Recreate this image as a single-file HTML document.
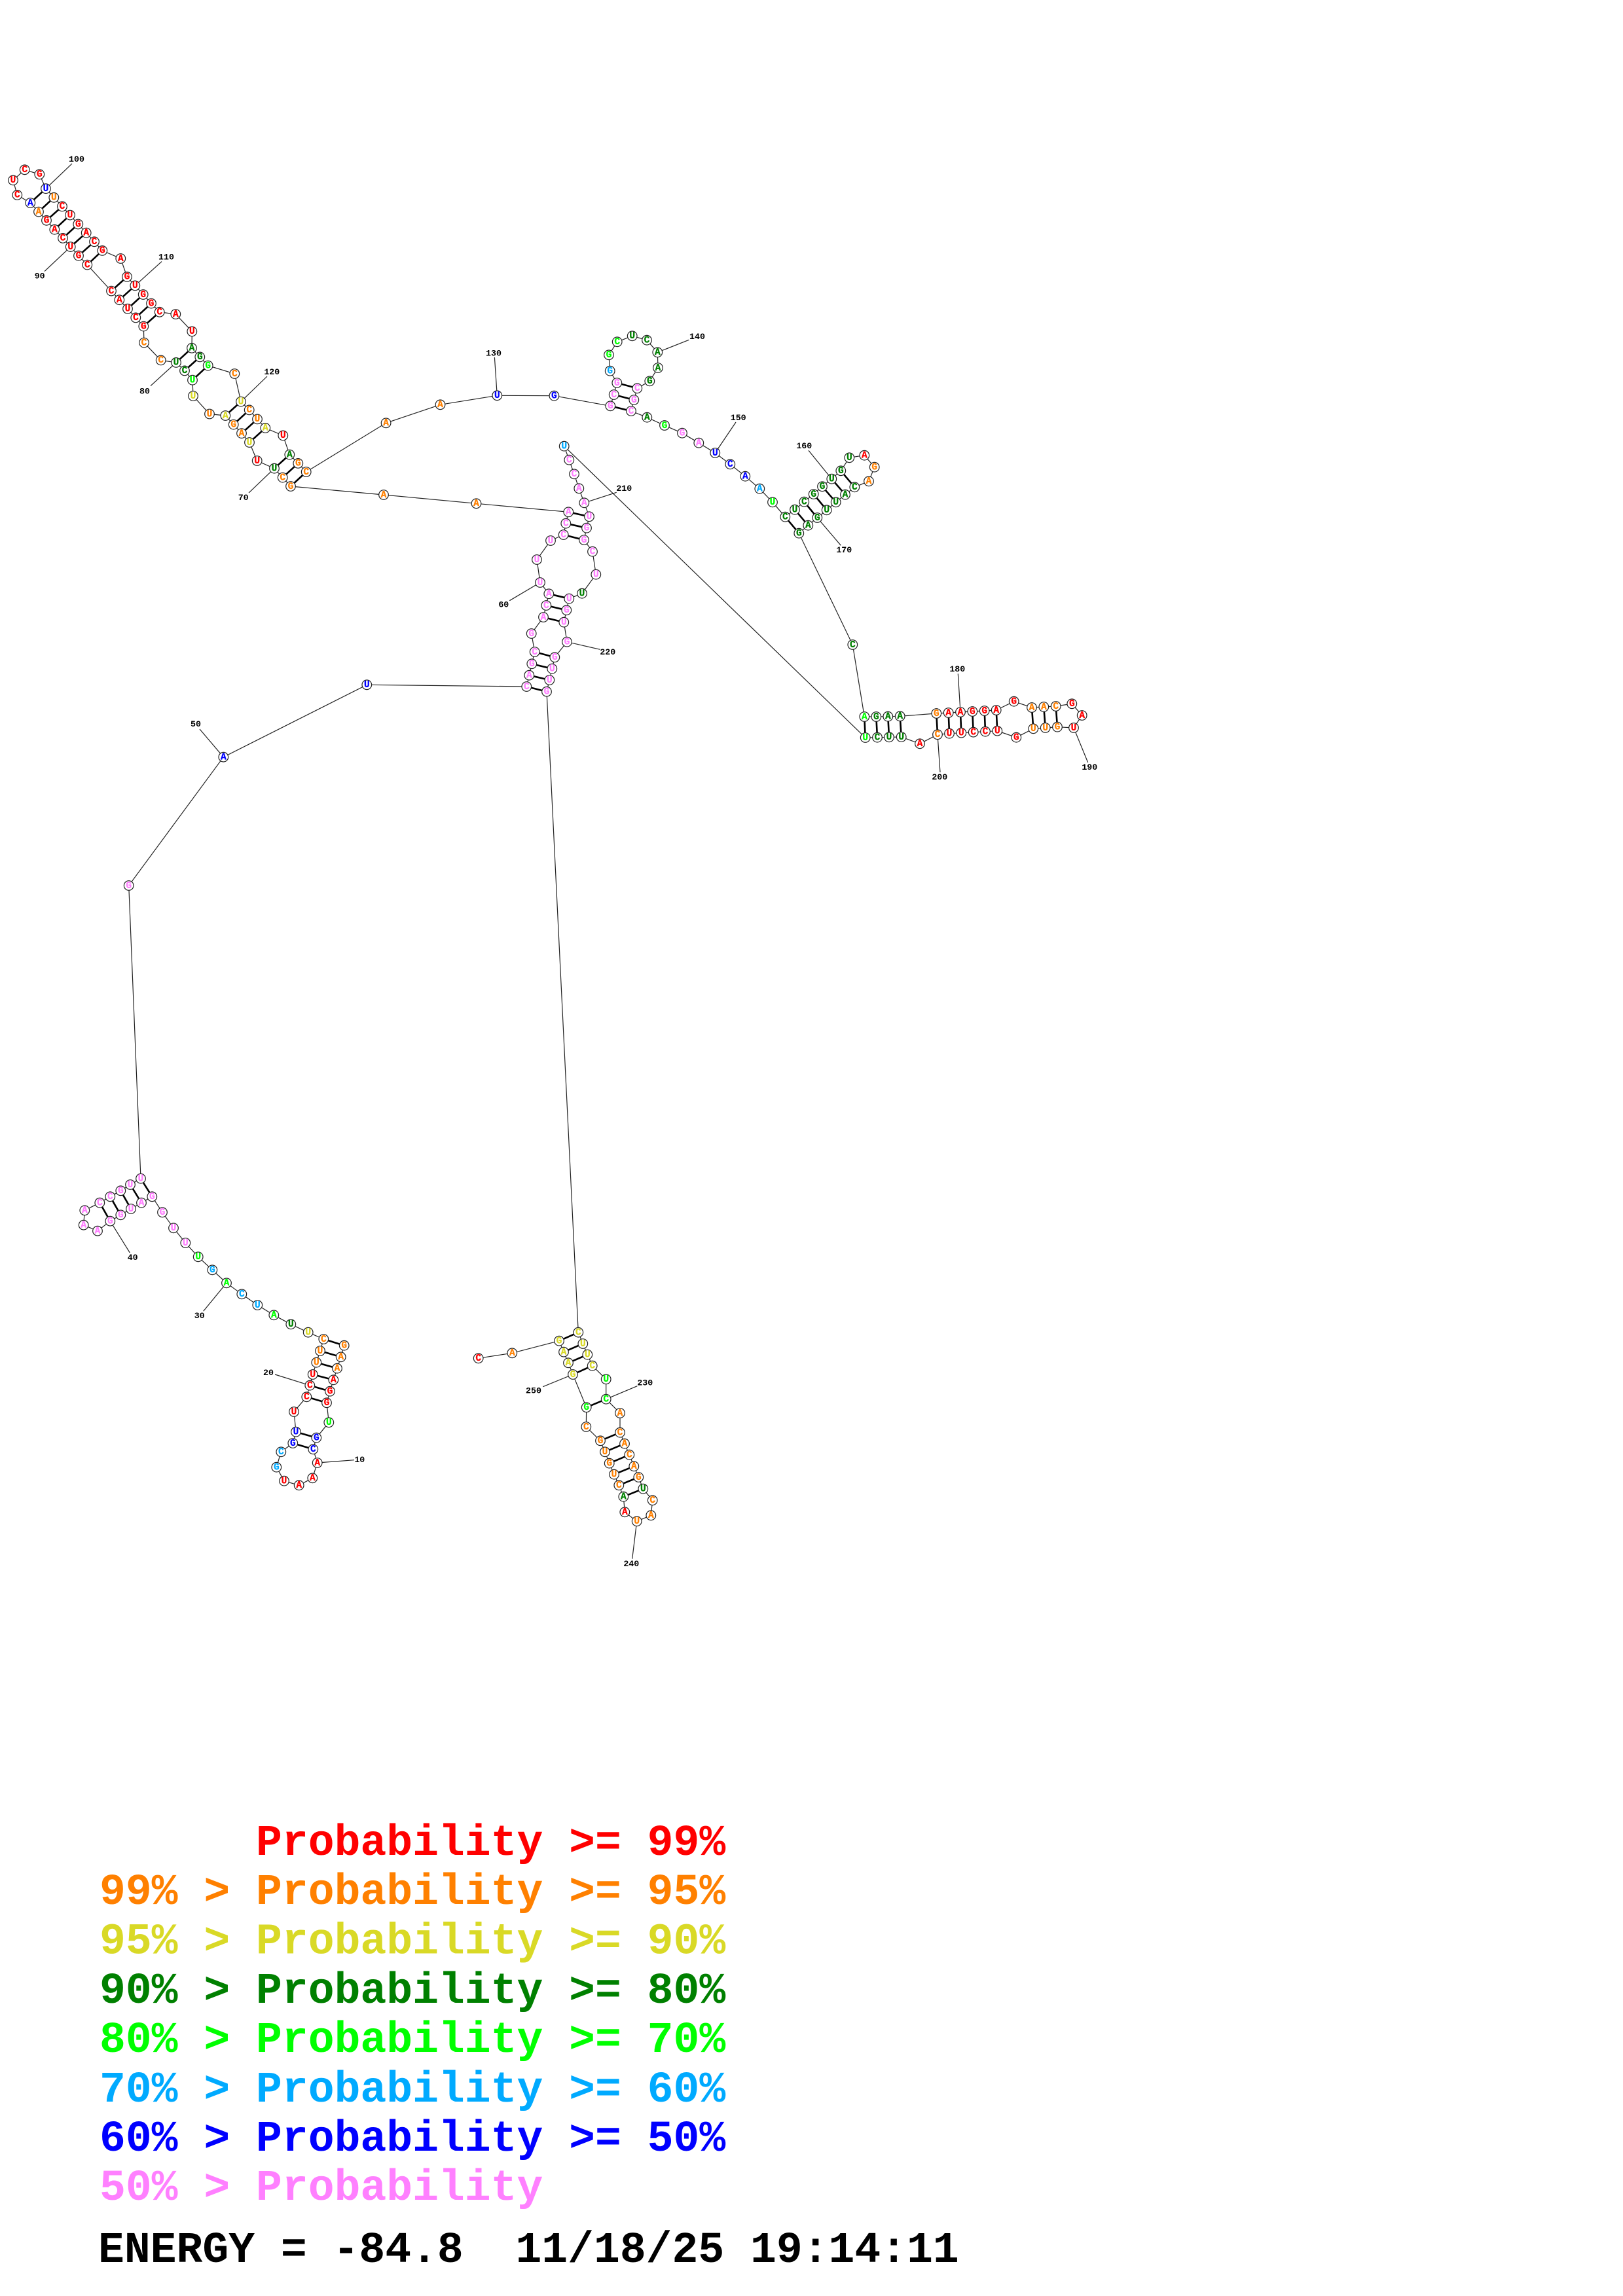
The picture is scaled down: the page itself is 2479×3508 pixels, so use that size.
<!DOCTYPE html>
<html><head><meta charset="utf-8"><title>RNA secondary structure</title>
<style>
html,body{margin:0;padding:0;background:#fff}
svg{display:block}
.c circle{r:7.3px}
.n text{font:bold 14.5px "Liberation Mono",monospace;text-anchor:middle;dominant-baseline:central;stroke-width:.3px}
.n .r{stroke:#ff0000}.n .o{stroke:#ff8000}.n .y{stroke:#d9d926}.n .d{stroke:#008000}.n .b{stroke:#00ff00}.n .s{stroke:#00aaff}.n .u{stroke:#0000ff}.n .p{stroke:#ff80ff}
.l text{font:bold 13.3px "Liberation Mono",monospace;text-anchor:middle;dominant-baseline:central;fill:#000}
.g text{font:bold 66.4px "Liberation Mono",monospace;white-space:pre}
.r{fill:#ff0000}.o{fill:#ff8000}.y{fill:#d9d926}.d{fill:#008000}.b{fill:#00ff00}.s{fill:#00aaff}.u{fill:#0000ff}.p{fill:#ff80ff}
</style></head><body>
<svg xmlns="http://www.w3.org/2000/svg" width="2479" height="3508" viewBox="0 0 2479 3508">
<polyline fill="none" stroke="#222" stroke-width="1.2" points="525.7,2055.7 520.7,2073.3 515,2090.7 509.3,2108.3 504,2125.7 499,2143.3 502.3,2173.3 483.3,2196.7 478.3,2214.3 484.7,2235 477.3,2258.3 456.7,2269.3 434,2262.7 422.3,2241.7 429.3,2218.3 447.3,2205 452,2187.7 449,2157 468.3,2134.3 473.3,2116.7 477.7,2100 483.3,2081.7 489,2064 494.3,2046 470.7,2035.7 444.3,2023.3 418.3,2009.3 393.3,1994 369.3,1977.3 346,1960.3 324.3,1940.3 302.7,1920.3 283.3,1899 265,1876.3 248,1852.3 232.3,1828.3 216,1837.7 200,1847 184.3,1856.3 168.3,1865.7 149,1880.7 127.7,1871.7 129.3,1849.3 152.3,1837.7 168.3,1828.3 184.3,1819.3 199,1810 215,1800.7 196.7,1353 341.3,1156.7 560.3,1046.3 804.3,1049 808.3,1031.7 812.3,1014.3 816.7,996 811.7,968 830,943 834.3,925 838.3,907.3 825,890 820,855 841,826 860.7,817 864.3,799.7 868.3,782.3 727.5,769.3 586,756 444,743 431.7,729.6 419,715.7 392.7,704 381,676 369,662.1 356.7,648.6 344.3,635 320,632.5 295,605 294,580.7 282,566.4 269,553.9 245.7,550.4 220,523.6 219.3,498.6 207.3,485.4 195,471.8 182.3,458.2 170,444.6 133.3,404.6 120,390.7 107.7,377.1 96,363.9 83.3,350.7 71,336.8 59,323.6 46.3,310 26.3,297.9 20,275.4 37.7,259.3 60.3,266.4 70,288.2 82.3,301.8 95,315.4 107,328.6 119.3,342.5 131.7,355.7 144,369.3 156.3,382.9 184.3,395 194,422.9 206.3,436.4 218.7,450 231,463.6 243.7,476.8 268.3,480 293.3,506.4 293,531.8 305.3,545.4 317.7,558.6 358.3,571 368,613.6 380.7,626.4 393,640.4 405.3,653.9 432.3,665.4 442.3,694.6 455.3,707.9 467.7,721 589.6,646.3 672.5,618.3 759.3,604.3 846.4,604.7 932.3,620.3 937.7,603 942.3,585 931.7,566.7 930,542.3 942.7,522.3 965.7,513.3 988,519.7 1004.3,538.3 1005,562 992.3,582.3 973.3,593.3 968.3,611 964,628 988.3,637.7 1015,650 1042,661.7 1067.3,676.7 1092.3,692 1115.3,709.3 1138.3,727.7 1160.3,746.7 1180,767.3 1199.3,789.7 1214,778.7 1228.3,766.7 1242.7,755 1256,743.3 1270.3,731.7 1284.3,719.3 1297.3,699.3 1320.3,695.7 1335.7,713.7 1327,735.3 1305.3,744.3 1291,755.7 1276.7,767.3 1262.7,779.3 1248.3,791 1234.3,802.7 1220.3,814.7 1302.3,985 1320.3,1095 1338.3,1095 1356.3,1094.7 1374.7,1094.3 1430.3,1090 1448.7,1089 1467,1088 1485.3,1087 1503.7,1086 1521.7,1085 1548.7,1071.7 1576,1081 1594.3,1080 1612.7,1079 1637.3,1075.3 1652.7,1093 1640,1112 1615,1110.7 1596.7,1112 1578.3,1113.3 1552.3,1126.7 1523.3,1116.7 1505,1117.7 1486.7,1118.7 1468.3,1119.7 1450,1120.7 1432,1122.3 1405,1136.3 1376.7,1126 1358,1126.3 1340,1126.7 1321.7,1127 861.7,681.7 869.3,702.7 877,724.3 884.3,746.3 892.3,768.3 900,789.3 896,806.7 892,825 905,842.7 910.3,877.7 889,906.7 869.3,914.7 865.3,932.3 861.3,950.7 866,980.7 847.3,1004.3 843.3,1021.7 839.3,1039 835,1056.7 883.3,2035.7 890.3,2053 897.3,2069.7 904.7,2086.7 925.7,2107.3 925.7,2137.7 947,2159 947,2188.7 954,2205.7 961.3,2222.7 968.3,2240.3 975.3,2257 982.3,2274.7 996.7,2292.3 994.3,2315.3 972.7,2324.3 954.3,2310.3 952.3,2286.7 945.3,2269.3 938,2252.7 930.7,2235.7 924,2218.3 917,2201.3 895.3,2180 895.7,2150.3 875,2100 868,2082.3 861,2065.7 854,2048.7 782.3,2067.3 730.7,2075.3"/>
<path fill="none" stroke="#000" stroke-width="2.6" d="M525.7 2055.7L494.3 2046M520.7 2073.3L489 2064M515 2090.7L483.3 2081.7M509.3 2108.3L477.7 2100M504 2125.7L473.3 2116.7M499 2143.3L468.3 2134.3M483.3 2196.7L452 2187.7M478.3 2214.3L447.3 2205M232.3 1828.3L215 1800.7M216 1837.7L199 1810M200 1847L184.3 1819.3M184.3 1856.3L168.3 1828.3M168.3 1865.7L152.3 1837.7M804.3 1049L835 1056.7M808.3 1031.7L839.3 1039M812.3 1014.3L843.3 1021.7M816.7 996L847.3 1004.3M830 943L861.3 950.7M834.3 925L865.3 932.3M838.3 907.3L869.3 914.7M860.7 817L892 825M864.3 799.7L896 806.7M868.3 782.3L900 789.3M444 743L467.7 721M431.7 729.6L455.3 707.9M419 715.7L442.3 694.6M381 676L405.3 653.9M369 662.1L393 640.4M356.7 648.6L380.7 626.4M344.3 635L368 613.6M294 580.7L317.7 558.6M282 566.4L305.3 545.4M269 553.9L293 531.8M219.3 498.6L243.7 476.8M207.3 485.4L231 463.6M195 471.8L218.7 450M182.3 458.2L206.3 436.4M170 444.6L194 422.9M133.3 404.6L156.3 382.9M120 390.7L144 369.3M107.7 377.1L131.7 355.7M96 363.9L119.3 342.5M83.3 350.7L107 328.6M71 336.8L95 315.4M59 323.6L82.3 301.8M46.3 310L70 288.2M932.3 620.3L964 628M937.7 603L968.3 611M942.3 585L973.3 593.3M1199.3 789.7L1220.3 814.7M1214 778.7L1234.3 802.7M1228.3 766.7L1248.3 791M1242.7 755L1262.7 779.3M1256 743.3L1276.7 767.3M1270.3 731.7L1291 755.7M1284.3 719.3L1305.3 744.3M1320.3 1095L1321.7 1127M1338.3 1095L1340 1126.7M1356.3 1094.7L1358 1126.3M1374.7 1094.3L1376.7 1126M1430.3 1090L1432 1122.3M1448.7 1089L1450 1120.7M1467 1088L1468.3 1119.7M1485.3 1087L1486.7 1118.7M1503.7 1086L1505 1117.7M1521.7 1085L1523.3 1116.7M1576 1081L1578.3 1113.3M1594.3 1080L1596.7 1112M1612.7 1079L1615 1110.7M883.3 2035.7L854 2048.7M890.3 2053L861 2065.7M897.3 2069.7L868 2082.3M904.7 2086.7L875 2100M925.7 2137.7L895.7 2150.3M947 2188.7L917 2201.3M954 2205.7L924 2218.3M961.3 2222.7L930.7 2235.7M968.3 2240.3L938 2252.7M975.3 2257L945.3 2269.3M982.3 2274.7L952.3 2286.7"/>
<path fill="none" stroke="#222" stroke-width="1.2" d="M70 288.2L110 250M107.7 377.1L68 414.6M206.3 436.4L247 399.6M269 553.9L230 589.6M368 613.6L408 575M419 715.7L380 753M759.3 604.3L755.4 546M1004.3 538.3L1052.3 519.3M1092.3 692L1124 645M1270.3 731.7L1235 688.3M1248.3 791L1284.3 833.3M1467 1088L1463.3 1029.3M1640 1112L1661.7 1165M1432 1122.3L1436 1180M892.3 768.3L941.7 752.3M866 980.7L916.7 992.3M825 890L778.3 917.7M341.3 1156.7L305 1114M168.3 1865.7L198.3 1914M346 1960.3L310.7 2003.3M473.3 2116.7L420 2100M484.7 2235L541 2230.7M925.7 2137.7L973.3 2117.7M972.7 2324.3L965.7 2381.7M875 2100L829.3 2118.7"/>
<g class="c" fill="#fff" stroke="#222" stroke-width="1.2">
<circle cx="525.7" cy="2055.7" r="7"/><circle cx="520.7" cy="2073.3" r="7"/><circle cx="515" cy="2090.7" r="7"/><circle cx="509.3" cy="2108.3" r="7"/><circle cx="504" cy="2125.7" r="7"/><circle cx="499" cy="2143.3" r="7"/><circle cx="502.3" cy="2173.3" r="7"/><circle cx="483.3" cy="2196.7" r="7"/><circle cx="478.3" cy="2214.3" r="7"/><circle cx="484.7" cy="2235" r="7"/><circle cx="477.3" cy="2258.3" r="7"/><circle cx="456.7" cy="2269.3" r="7"/><circle cx="434" cy="2262.7" r="7"/><circle cx="422.3" cy="2241.7" r="7"/><circle cx="429.3" cy="2218.3" r="7"/><circle cx="447.3" cy="2205" r="7"/><circle cx="452" cy="2187.7" r="7"/><circle cx="449" cy="2157" r="7"/><circle cx="468.3" cy="2134.3" r="7"/><circle cx="473.3" cy="2116.7" r="7"/><circle cx="477.7" cy="2100" r="7"/><circle cx="483.3" cy="2081.7" r="7"/><circle cx="489" cy="2064" r="7"/><circle cx="494.3" cy="2046" r="7"/><circle cx="470.7" cy="2035.7" r="7"/><circle cx="444.3" cy="2023.3" r="7"/><circle cx="418.3" cy="2009.3" r="7"/><circle cx="393.3" cy="1994" r="7"/><circle cx="369.3" cy="1977.3" r="7"/><circle cx="346" cy="1960.3" r="7"/><circle cx="324.3" cy="1940.3" r="7"/><circle cx="302.7" cy="1920.3" r="7"/><circle cx="283.3" cy="1899" r="7"/><circle cx="265" cy="1876.3" r="7"/><circle cx="248" cy="1852.3" r="7"/><circle cx="232.3" cy="1828.3" r="7"/><circle cx="216" cy="1837.7" r="7"/><circle cx="200" cy="1847" r="7"/><circle cx="184.3" cy="1856.3" r="7"/><circle cx="168.3" cy="1865.7" r="7"/><circle cx="149" cy="1880.7" r="7"/><circle cx="127.7" cy="1871.7" r="7"/><circle cx="129.3" cy="1849.3" r="7"/><circle cx="152.3" cy="1837.7" r="7"/><circle cx="168.3" cy="1828.3" r="7"/><circle cx="184.3" cy="1819.3" r="7"/><circle cx="199" cy="1810" r="7"/><circle cx="215" cy="1800.7" r="7"/><circle cx="196.7" cy="1353" r="7"/><circle cx="341.3" cy="1156.7" r="7"/><circle cx="560.3" cy="1046.3" r="7"/><circle cx="804.3" cy="1049" r="7"/><circle cx="808.3" cy="1031.7" r="7"/><circle cx="812.3" cy="1014.3" r="7"/><circle cx="816.7" cy="996" r="7"/><circle cx="811.7" cy="968" r="7"/><circle cx="830" cy="943" r="7"/><circle cx="834.3" cy="925" r="7"/><circle cx="838.3" cy="907.3" r="7"/><circle cx="825" cy="890" r="7"/><circle cx="820" cy="855" r="7"/><circle cx="841" cy="826" r="7"/><circle cx="860.7" cy="817" r="7"/><circle cx="864.3" cy="799.7" r="7"/><circle cx="868.3" cy="782.3" r="7"/><circle cx="727.5" cy="769.3" r="7"/><circle cx="586" cy="756" r="7"/><circle cx="444" cy="743" r="7"/><circle cx="431.7" cy="729.6" r="7"/><circle cx="419" cy="715.7" r="7"/><circle cx="392.7" cy="704" r="7"/><circle cx="381" cy="676" r="7"/><circle cx="369" cy="662.1" r="7"/><circle cx="356.7" cy="648.6" r="7"/><circle cx="344.3" cy="635" r="7"/><circle cx="320" cy="632.5" r="7"/><circle cx="295" cy="605" r="7"/><circle cx="294" cy="580.7" r="7"/><circle cx="282" cy="566.4" r="7"/><circle cx="269" cy="553.9" r="7"/><circle cx="245.7" cy="550.4" r="7"/><circle cx="220" cy="523.6" r="7"/><circle cx="219.3" cy="498.6" r="7"/><circle cx="207.3" cy="485.4" r="7"/><circle cx="195" cy="471.8" r="7"/><circle cx="182.3" cy="458.2" r="7"/><circle cx="170" cy="444.6" r="7"/><circle cx="133.3" cy="404.6" r="7"/><circle cx="120" cy="390.7" r="7"/><circle cx="107.7" cy="377.1" r="7"/><circle cx="96" cy="363.9" r="7"/><circle cx="83.3" cy="350.7" r="7"/><circle cx="71" cy="336.8" r="7"/><circle cx="59" cy="323.6" r="7"/><circle cx="46.3" cy="310" r="7"/><circle cx="26.3" cy="297.9" r="7"/><circle cx="20" cy="275.4" r="7"/><circle cx="37.7" cy="259.3" r="7"/><circle cx="60.3" cy="266.4" r="7"/><circle cx="70" cy="288.2" r="7"/><circle cx="82.3" cy="301.8" r="7"/><circle cx="95" cy="315.4" r="7"/><circle cx="107" cy="328.6" r="7"/><circle cx="119.3" cy="342.5" r="7"/><circle cx="131.7" cy="355.7" r="7"/><circle cx="144" cy="369.3" r="7"/><circle cx="156.3" cy="382.9" r="7"/><circle cx="184.3" cy="395" r="7"/><circle cx="194" cy="422.9" r="7"/><circle cx="206.3" cy="436.4" r="7"/><circle cx="218.7" cy="450" r="7"/><circle cx="231" cy="463.6" r="7"/><circle cx="243.7" cy="476.8" r="7"/><circle cx="268.3" cy="480" r="7"/><circle cx="293.3" cy="506.4" r="7"/><circle cx="293" cy="531.8" r="7"/><circle cx="305.3" cy="545.4" r="7"/><circle cx="317.7" cy="558.6" r="7"/><circle cx="358.3" cy="571" r="7"/><circle cx="368" cy="613.6" r="7"/><circle cx="380.7" cy="626.4" r="7"/><circle cx="393" cy="640.4" r="7"/><circle cx="405.3" cy="653.9" r="7"/><circle cx="432.3" cy="665.4" r="7"/><circle cx="442.3" cy="694.6" r="7"/><circle cx="455.3" cy="707.9" r="7"/><circle cx="467.7" cy="721" r="7"/><circle cx="589.6" cy="646.3" r="7"/><circle cx="672.5" cy="618.3" r="7"/><circle cx="759.3" cy="604.3" r="7"/><circle cx="846.4" cy="604.7" r="7"/><circle cx="932.3" cy="620.3" r="7"/><circle cx="937.7" cy="603" r="7"/><circle cx="942.3" cy="585" r="7"/><circle cx="931.7" cy="566.7" r="7"/><circle cx="930" cy="542.3" r="7"/><circle cx="942.7" cy="522.3" r="7"/><circle cx="965.7" cy="513.3" r="7"/><circle cx="988" cy="519.7" r="7"/><circle cx="1004.3" cy="538.3" r="7"/><circle cx="1005" cy="562" r="7"/><circle cx="992.3" cy="582.3" r="7"/><circle cx="973.3" cy="593.3" r="7"/><circle cx="968.3" cy="611" r="7"/><circle cx="964" cy="628" r="7"/><circle cx="988.3" cy="637.7" r="7"/><circle cx="1015" cy="650" r="7"/><circle cx="1042" cy="661.7" r="7"/><circle cx="1067.3" cy="676.7" r="7"/><circle cx="1092.3" cy="692" r="7"/><circle cx="1115.3" cy="709.3" r="7"/><circle cx="1138.3" cy="727.7" r="7"/><circle cx="1160.3" cy="746.7" r="7"/><circle cx="1180" cy="767.3" r="7"/><circle cx="1199.3" cy="789.7" r="7"/><circle cx="1214" cy="778.7" r="7"/><circle cx="1228.3" cy="766.7" r="7"/><circle cx="1242.7" cy="755" r="7"/><circle cx="1256" cy="743.3" r="7"/><circle cx="1270.3" cy="731.7" r="7"/><circle cx="1284.3" cy="719.3" r="7"/><circle cx="1297.3" cy="699.3" r="7"/><circle cx="1320.3" cy="695.7" r="7"/><circle cx="1335.7" cy="713.7" r="7"/><circle cx="1327" cy="735.3" r="7"/><circle cx="1305.3" cy="744.3" r="7"/><circle cx="1291" cy="755.7" r="7"/><circle cx="1276.7" cy="767.3" r="7"/><circle cx="1262.7" cy="779.3" r="7"/><circle cx="1248.3" cy="791" r="7"/><circle cx="1234.3" cy="802.7" r="7"/><circle cx="1220.3" cy="814.7" r="7"/><circle cx="1302.3" cy="985" r="7"/><circle cx="1320.3" cy="1095" r="7"/><circle cx="1338.3" cy="1095" r="7"/><circle cx="1356.3" cy="1094.7" r="7"/><circle cx="1374.7" cy="1094.3" r="7"/><circle cx="1430.3" cy="1090" r="7"/><circle cx="1448.7" cy="1089" r="7"/><circle cx="1467" cy="1088" r="7"/><circle cx="1485.3" cy="1087" r="7"/><circle cx="1503.7" cy="1086" r="7"/><circle cx="1521.7" cy="1085" r="7"/><circle cx="1548.7" cy="1071.7" r="7"/><circle cx="1576" cy="1081" r="7"/><circle cx="1594.3" cy="1080" r="7"/><circle cx="1612.7" cy="1079" r="7"/><circle cx="1637.3" cy="1075.3" r="7"/><circle cx="1652.7" cy="1093" r="7"/><circle cx="1640" cy="1112" r="7"/><circle cx="1615" cy="1110.7" r="7"/><circle cx="1596.7" cy="1112" r="7"/><circle cx="1578.3" cy="1113.3" r="7"/><circle cx="1552.3" cy="1126.7" r="7"/><circle cx="1523.3" cy="1116.7" r="7"/><circle cx="1505" cy="1117.7" r="7"/><circle cx="1486.7" cy="1118.7" r="7"/><circle cx="1468.3" cy="1119.7" r="7"/><circle cx="1450" cy="1120.7" r="7"/><circle cx="1432" cy="1122.3" r="7"/><circle cx="1405" cy="1136.3" r="7"/><circle cx="1376.7" cy="1126" r="7"/><circle cx="1358" cy="1126.3" r="7"/><circle cx="1340" cy="1126.7" r="7"/><circle cx="1321.7" cy="1127" r="7"/><circle cx="861.7" cy="681.7" r="7"/><circle cx="869.3" cy="702.7" r="7"/><circle cx="877" cy="724.3" r="7"/><circle cx="884.3" cy="746.3" r="7"/><circle cx="892.3" cy="768.3" r="7"/><circle cx="900" cy="789.3" r="7"/><circle cx="896" cy="806.7" r="7"/><circle cx="892" cy="825" r="7"/><circle cx="905" cy="842.7" r="7"/><circle cx="910.3" cy="877.7" r="7"/><circle cx="889" cy="906.7" r="7"/><circle cx="869.3" cy="914.7" r="7"/><circle cx="865.3" cy="932.3" r="7"/><circle cx="861.3" cy="950.7" r="7"/><circle cx="866" cy="980.7" r="7"/><circle cx="847.3" cy="1004.3" r="7"/><circle cx="843.3" cy="1021.7" r="7"/><circle cx="839.3" cy="1039" r="7"/><circle cx="835" cy="1056.7" r="7"/><circle cx="883.3" cy="2035.7" r="7"/><circle cx="890.3" cy="2053" r="7"/><circle cx="897.3" cy="2069.7" r="7"/><circle cx="904.7" cy="2086.7" r="7"/><circle cx="925.7" cy="2107.3" r="7"/><circle cx="925.7" cy="2137.7" r="7"/><circle cx="947" cy="2159" r="7"/><circle cx="947" cy="2188.7" r="7"/><circle cx="954" cy="2205.7" r="7"/><circle cx="961.3" cy="2222.7" r="7"/><circle cx="968.3" cy="2240.3" r="7"/><circle cx="975.3" cy="2257" r="7"/><circle cx="982.3" cy="2274.7" r="7"/><circle cx="996.7" cy="2292.3" r="7"/><circle cx="994.3" cy="2315.3" r="7"/><circle cx="972.7" cy="2324.3" r="7"/><circle cx="954.3" cy="2310.3" r="7"/><circle cx="952.3" cy="2286.7" r="7"/><circle cx="945.3" cy="2269.3" r="7"/><circle cx="938" cy="2252.7" r="7"/><circle cx="930.7" cy="2235.7" r="7"/><circle cx="924" cy="2218.3" r="7"/><circle cx="917" cy="2201.3" r="7"/><circle cx="895.3" cy="2180" r="7"/><circle cx="895.7" cy="2150.3" r="7"/><circle cx="875" cy="2100" r="7"/><circle cx="868" cy="2082.3" r="7"/><circle cx="861" cy="2065.7" r="7"/><circle cx="854" cy="2048.7" r="7"/><circle cx="782.3" cy="2067.3" r="7"/><circle cx="730.7" cy="2075.3" r="7"/>
</g>
<g class="n" transform="translate(0,0.8)">
<text class="o" x="525.7" y="2055.7">G</text><text class="o" x="520.7" y="2073.3">A</text><text class="o" x="515" y="2090.7">A</text><text class="r" x="509.3" y="2108.3">A</text><text class="r" x="504" y="2125.7">G</text><text class="r" x="499" y="2143.3">G</text><text class="b" x="502.3" y="2173.3">U</text><text class="u" x="483.3" y="2196.7">G</text><text class="u" x="478.3" y="2214.3">C</text><text class="r" x="484.7" y="2235">A</text><text class="r" x="477.3" y="2258.3">A</text><text class="r" x="456.7" y="2269.3">A</text><text class="r" x="434" y="2262.7">U</text><text class="s" x="422.3" y="2241.7">G</text><text class="s" x="429.3" y="2218.3">C</text><text class="u" x="447.3" y="2205">G</text><text class="u" x="452" y="2187.7">U</text><text class="r" x="449" y="2157">U</text><text class="r" x="468.3" y="2134.3">C</text><text class="r" x="473.3" y="2116.7">C</text><text class="r" x="477.7" y="2100">U</text><text class="o" x="483.3" y="2081.7">U</text><text class="o" x="489" y="2064">U</text><text class="o" x="494.3" y="2046">C</text><text class="y" x="470.7" y="2035.7">U</text><text class="d" x="444.3" y="2023.3">U</text><text class="b" x="418.3" y="2009.3">A</text><text class="s" x="393.3" y="1994">U</text><text class="s" x="369.3" y="1977.3">C</text><text class="b" x="346" y="1960.3">A</text><text class="s" x="324.3" y="1940.3">G</text><text class="b" x="302.7" y="1920.3">U</text><text class="p" x="283.3" y="1899">U</text><text class="p" x="265" y="1876.3">U</text><text class="p" x="248" y="1852.3">G</text><text class="p" x="232.3" y="1828.3">G</text><text class="p" x="216" y="1837.7">A</text><text class="p" x="200" y="1847">U</text><text class="p" x="184.3" y="1856.3">G</text><text class="p" x="168.3" y="1865.7">G</text><text class="p" x="149" y="1880.7">A</text><text class="p" x="127.7" y="1871.7">A</text><text class="p" x="129.3" y="1849.3">A</text><text class="p" x="152.3" y="1837.7">C</text><text class="p" x="168.3" y="1828.3">C</text><text class="p" x="184.3" y="1819.3">G</text><text class="p" x="199" y="1810">U</text><text class="p" x="215" y="1800.7">U</text><text class="p" x="196.7" y="1353">G</text><text class="u" x="341.3" y="1156.7">A</text><text class="u" x="560.3" y="1046.3">U</text><text class="p" x="804.3" y="1049">C</text><text class="p" x="808.3" y="1031.7">A</text><text class="p" x="812.3" y="1014.3">G</text><text class="p" x="816.7" y="996">C</text><text class="p" x="811.7" y="968">G</text><text class="p" x="830" y="943">A</text><text class="p" x="834.3" y="925">C</text><text class="p" x="838.3" y="907.3">A</text><text class="p" x="825" y="890">U</text><text class="p" x="820" y="855">U</text><text class="p" x="841" y="826">U</text><text class="p" x="860.7" y="817">C</text><text class="p" x="864.3" y="799.7">C</text><text class="p" x="868.3" y="782.3">A</text><text class="o" x="727.5" y="769.3">A</text><text class="o" x="586" y="756">A</text><text class="o" x="444" y="743">G</text><text class="o" x="431.7" y="729.6">C</text><text class="d" x="419" y="715.7">U</text><text class="r" x="392.7" y="704">U</text><text class="y" x="381" y="676">U</text><text class="o" x="369" y="662.1">A</text><text class="o" x="356.7" y="648.6">G</text><text class="y" x="344.3" y="635">A</text><text class="o" x="320" y="632.5">U</text><text class="y" x="295" y="605">U</text><text class="b" x="294" y="580.7">U</text><text class="d" x="282" y="566.4">C</text><text class="d" x="269" y="553.9">U</text><text class="o" x="245.7" y="550.4">C</text><text class="o" x="220" y="523.6">C</text><text class="r" x="219.3" y="498.6">G</text><text class="r" x="207.3" y="485.4">C</text><text class="r" x="195" y="471.8">U</text><text class="r" x="182.3" y="458.2">A</text><text class="r" x="170" y="444.6">C</text><text class="r" x="133.3" y="404.6">C</text><text class="r" x="120" y="390.7">G</text><text class="r" x="107.7" y="377.1">U</text><text class="r" x="96" y="363.9">C</text><text class="r" x="83.3" y="350.7">A</text><text class="r" x="71" y="336.8">G</text><text class="o" x="59" y="323.6">A</text><text class="u" x="46.3" y="310">A</text><text class="r" x="26.3" y="297.9">C</text><text class="r" x="20" y="275.4">U</text><text class="r" x="37.7" y="259.3">C</text><text class="r" x="60.3" y="266.4">G</text><text class="u" x="70" y="288.2">U</text><text class="o" x="82.3" y="301.8">U</text><text class="r" x="95" y="315.4">C</text><text class="r" x="107" y="328.6">U</text><text class="r" x="119.3" y="342.5">G</text><text class="r" x="131.7" y="355.7">A</text><text class="r" x="144" y="369.3">C</text><text class="r" x="156.3" y="382.9">G</text><text class="r" x="184.3" y="395">A</text><text class="r" x="194" y="422.9">G</text><text class="r" x="206.3" y="436.4">U</text><text class="r" x="218.7" y="450">G</text><text class="r" x="231" y="463.6">G</text><text class="r" x="243.7" y="476.8">C</text><text class="r" x="268.3" y="480">A</text><text class="r" x="293.3" y="506.4">U</text><text class="d" x="293" y="531.8">A</text><text class="d" x="305.3" y="545.4">G</text><text class="b" x="317.7" y="558.6">G</text><text class="o" x="358.3" y="571">C</text><text class="y" x="368" y="613.6">U</text><text class="o" x="380.7" y="626.4">C</text><text class="o" x="393" y="640.4">U</text><text class="y" x="405.3" y="653.9">A</text><text class="r" x="432.3" y="665.4">U</text><text class="d" x="442.3" y="694.6">A</text><text class="o" x="455.3" y="707.9">G</text><text class="o" x="467.7" y="721">C</text><text class="o" x="589.6" y="646.3">A</text><text class="o" x="672.5" y="618.3">A</text><text class="u" x="759.3" y="604.3">U</text><text class="u" x="846.4" y="604.7">G</text><text class="p" x="932.3" y="620.3">G</text><text class="p" x="937.7" y="603">C</text><text class="p" x="942.3" y="585">G</text><text class="s" x="931.7" y="566.7">G</text><text class="b" x="930" y="542.3">G</text><text class="b" x="942.7" y="522.3">C</text><text class="d" x="965.7" y="513.3">U</text><text class="d" x="988" y="519.7">C</text><text class="d" x="1004.3" y="538.3">A</text><text class="d" x="1005" y="562">A</text><text class="d" x="992.3" y="582.3">G</text><text class="p" x="973.3" y="593.3">C</text><text class="p" x="968.3" y="611">G</text><text class="p" x="964" y="628">C</text><text class="d" x="988.3" y="637.7">A</text><text class="b" x="1015" y="650">G</text><text class="p" x="1042" y="661.7">G</text><text class="p" x="1067.3" y="676.7">A</text><text class="u" x="1092.3" y="692">U</text><text class="u" x="1115.3" y="709.3">C</text><text class="u" x="1138.3" y="727.7">A</text><text class="s" x="1160.3" y="746.7">A</text><text class="b" x="1180" y="767.3">U</text><text class="d" x="1199.3" y="789.7">C</text><text class="d" x="1214" y="778.7">U</text><text class="d" x="1228.3" y="766.7">C</text><text class="d" x="1242.7" y="755">G</text><text class="d" x="1256" y="743.3">G</text><text class="d" x="1270.3" y="731.7">U</text><text class="d" x="1284.3" y="719.3">G</text><text class="d" x="1297.3" y="699.3">U</text><text class="r" x="1320.3" y="695.7">A</text><text class="o" x="1335.7" y="713.7">G</text><text class="o" x="1327" y="735.3">A</text><text class="d" x="1305.3" y="744.3">C</text><text class="d" x="1291" y="755.7">A</text><text class="d" x="1276.7" y="767.3">U</text><text class="d" x="1262.7" y="779.3">U</text><text class="d" x="1248.3" y="791">G</text><text class="d" x="1234.3" y="802.7">A</text><text class="d" x="1220.3" y="814.7">G</text><text class="d" x="1302.3" y="985">C</text><text class="b" x="1320.3" y="1095">A</text><text class="d" x="1338.3" y="1095">G</text><text class="d" x="1356.3" y="1094.7">A</text><text class="d" x="1374.7" y="1094.3">A</text><text class="o" x="1430.3" y="1090">G</text><text class="r" x="1448.7" y="1089">A</text><text class="r" x="1467" y="1088">A</text><text class="r" x="1485.3" y="1087">G</text><text class="r" x="1503.7" y="1086">G</text><text class="r" x="1521.7" y="1085">A</text><text class="r" x="1548.7" y="1071.7">G</text><text class="o" x="1576" y="1081">A</text><text class="o" x="1594.3" y="1080">A</text><text class="o" x="1612.7" y="1079">C</text><text class="r" x="1637.3" y="1075.3">G</text><text class="r" x="1652.7" y="1093">A</text><text class="r" x="1640" y="1112">U</text><text class="o" x="1615" y="1110.7">G</text><text class="o" x="1596.7" y="1112">U</text><text class="o" x="1578.3" y="1113.3">U</text><text class="r" x="1552.3" y="1126.7">G</text><text class="r" x="1523.3" y="1116.7">U</text><text class="r" x="1505" y="1117.7">C</text><text class="r" x="1486.7" y="1118.7">C</text><text class="r" x="1468.3" y="1119.7">U</text><text class="r" x="1450" y="1120.7">U</text><text class="o" x="1432" y="1122.3">C</text><text class="r" x="1405" y="1136.3">A</text><text class="d" x="1376.7" y="1126">U</text><text class="d" x="1358" y="1126.3">U</text><text class="d" x="1340" y="1126.7">C</text><text class="b" x="1321.7" y="1127">U</text><text class="s" x="861.7" y="681.7">U</text><text class="p" x="869.3" y="702.7">C</text><text class="p" x="877" y="724.3">C</text><text class="p" x="884.3" y="746.3">A</text><text class="p" x="892.3" y="768.3">A</text><text class="p" x="900" y="789.3">U</text><text class="p" x="896" y="806.7">G</text><text class="p" x="892" y="825">G</text><text class="p" x="905" y="842.7">C</text><text class="p" x="910.3" y="877.7">U</text><text class="d" x="889" y="906.7">U</text><text class="p" x="869.3" y="914.7">U</text><text class="p" x="865.3" y="932.3">G</text><text class="p" x="861.3" y="950.7">U</text><text class="p" x="866" y="980.7">G</text><text class="p" x="847.3" y="1004.3">G</text><text class="p" x="843.3" y="1021.7">U</text><text class="p" x="839.3" y="1039">U</text><text class="p" x="835" y="1056.7">G</text><text class="y" x="883.3" y="2035.7">C</text><text class="y" x="890.3" y="2053">U</text><text class="y" x="897.3" y="2069.7">U</text><text class="y" x="904.7" y="2086.7">C</text><text class="b" x="925.7" y="2107.3">U</text><text class="b" x="925.7" y="2137.7">C</text><text class="o" x="947" y="2159">A</text><text class="o" x="947" y="2188.7">C</text><text class="o" x="954" y="2205.7">A</text><text class="o" x="961.3" y="2222.7">C</text><text class="o" x="968.3" y="2240.3">A</text><text class="o" x="975.3" y="2257">G</text><text class="d" x="982.3" y="2274.7">U</text><text class="o" x="996.7" y="2292.3">C</text><text class="o" x="994.3" y="2315.3">A</text><text class="o" x="972.7" y="2324.3">U</text><text class="r" x="954.3" y="2310.3">A</text><text class="d" x="952.3" y="2286.7">A</text><text class="o" x="945.3" y="2269.3">C</text><text class="o" x="938" y="2252.7">U</text><text class="o" x="930.7" y="2235.7">G</text><text class="o" x="924" y="2218.3">U</text><text class="o" x="917" y="2201.3">G</text><text class="o" x="895.3" y="2180">C</text><text class="b" x="895.7" y="2150.3">G</text><text class="y" x="875" y="2100">G</text><text class="y" x="868" y="2082.3">A</text><text class="y" x="861" y="2065.7">A</text><text class="y" x="854" y="2048.7">G</text><text class="o" x="782.3" y="2067.3">A</text><text class="r" x="730.7" y="2075.3">C</text>
</g>
<g class="l">
<text x="117" y="243.6">100</text><text x="60.7" y="421.8">90</text><text x="254" y="392.9">110</text><text x="221" y="597.9">80</text><text x="415.3" y="568.6">120</text><text x="371.7" y="760.7">70</text><text x="754" y="540">130</text><text x="1065" y="514.7">140</text><text x="1127.7" y="638.7">150</text><text x="1228.3" y="681.7">160</text><text x="1289.3" y="840.7">170</text><text x="1462.3" y="1022.7">180</text><text x="1664.3" y="1172.7">190</text><text x="1435.3" y="1187.7">200</text><text x="953.3" y="746.7">210</text><text x="928.3" y="996.7">220</text><text x="769.3" y="924">60</text><text x="299" y="1106.7">50</text><text x="202.7" y="1921.7">40</text><text x="304.7" y="2010.7">30</text><text x="410" y="2097.7">20</text><text x="549.3" y="2230.7">10</text><text x="985.3" y="2113">230</text><text x="964.3" y="2389.7">240</text><text x="815" y="2125">250</text>
</g>
<g class="g">
<text class="r" x="152" y="2834">      Probability &gt;= 99%</text>
<text class="o" x="152" y="2909">99% &gt; Probability &gt;= 95%</text>
<text class="y" x="152" y="2984.5">95% &gt; Probability &gt;= 90%</text>
<text class="d" x="152" y="3060">90% &gt; Probability &gt;= 80%</text>
<text class="b" x="152" y="3135">80% &gt; Probability &gt;= 70%</text>
<text class="s" x="152" y="3211">70% &gt; Probability &gt;= 60%</text>
<text class="u" x="152" y="3286">60% &gt; Probability &gt;= 50%</text>
<text class="p" x="152" y="3361">50% &gt; Probability</text>
<text fill="#000" x="150" y="3456">ENERGY = -84.8  11/18/25 19:14:11</text>
</g>
</svg>
</body></html>
